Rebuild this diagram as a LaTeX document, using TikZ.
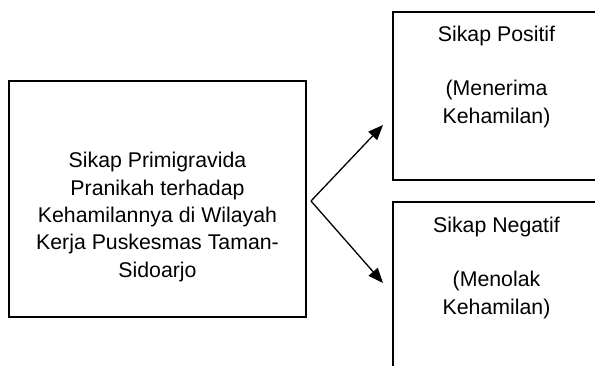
\documentclass[tikz,border=0pt]{standalone}
\usepackage{fontspec}
\setmainfont{Liberation Sans}
\usetikzlibrary{arrows.meta}
\begin{document}
\begin{tikzpicture}[x=1pt,y=-1pt,
  box/.style={draw,line width=1.4pt,inner sep=0pt},
  txt/.style={align=center,inner sep=0pt,font=\fontsize{21.3}{27.3}\selectfont},
  arr/.style={line width=1.3pt,-{Triangle[length=15pt,width=12pt]}}]
\clip (0,0) rectangle (595,365);
\fill[white] (0,0) rectangle (595,365);
\node[box,minimum width=297pt,minimum height=236pt] (main) at (157.5,199) {};
\node[box,minimum width=207pt,minimum height=168pt] (pos) at (496.5,96) {};
\node[box,minimum width=207pt,minimum height=178pt] (neg) at (496.5,291) {};
\node[txt,anchor=base] (maintxt) at (157.5,277) {Sikap Primigravida\\Pranikah terhadap\\Kehamilannya di Wilayah\\Kerja Puskesmas Taman-\\Sidoarjo};
\node[txt,anchor=base] (postxt) at (496.5,123) {Sikap Positif\\[27.3pt](Menerima\\Kehamilan)};
\node[txt,anchor=base] (negtxt) at (496.5,314) {Sikap Negatif\\[27.3pt](Menolak\\Kehamilan)};
\coordinate (v) at (311,201);
\coordinate (t1) at (383,125);
\coordinate (t2) at (383,283);
\draw[arr] (v) -- (t1);
\draw[arr] (v) -- (t2);
\end{tikzpicture}
\end{document}
